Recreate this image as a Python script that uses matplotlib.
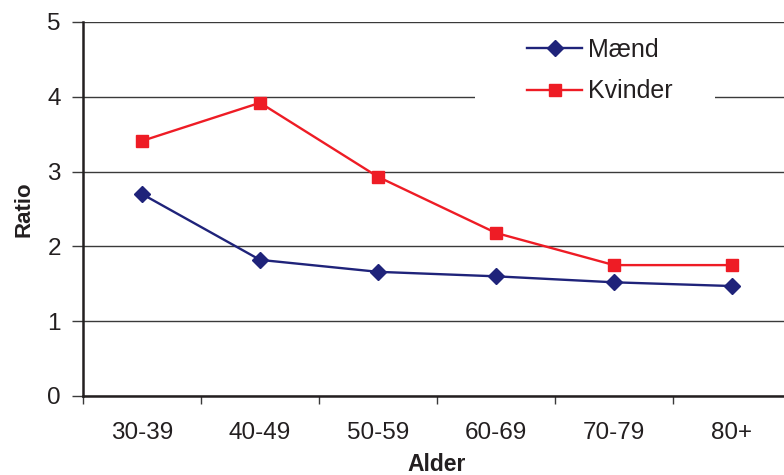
import matplotlib.pyplot as plt
from matplotlib.patches import Rectangle
import numpy as np

plt.rcParams['font.family'] = ['Liberation Sans', 'DejaVu Sans']

aldersgrupper = ['30-39', '40-49', '50-59', '60-69', '70-79', '80+']
maend = [2.70, 1.82, 1.66, 1.60, 1.52, 1.47]
kvinder = [3.41, 3.92, 2.93, 2.18, 1.75, 1.75]

fig = plt.figure(figsize=(7.84, 4.75), dpi=100)
ax = fig.add_axes([83 / 784, 79 / 475, 708 / 784, 374 / 475])

x = np.arange(len(aldersgrupper))
ax.plot(x, maend, color='#1f237a', marker='D', markersize=8.5, linewidth=1.7,
        label='Mænd', zorder=3)
ax.plot(x, kvinder, color='#ee1c25', marker='s', markersize=9, linewidth=1.7,
        label='Kvinder', zorder=3)

ax.set_xlim(-0.5, len(aldersgrupper) - 0.5)
ax.set_ylim(0, 5)
ax.set_yticks(range(0, 6))
ax.yaxis.grid(True, color='#3a3a3a', linewidth=1.0)
ax.set_axisbelow(True)

# kategorinavne midt i hver gruppe, tick-streger mellem grupperne
ax.set_xticks(x)
ax.set_xticklabels(aldersgrupper)
ax.set_xticks(np.arange(-0.5, len(aldersgrupper)), minor=True)
ax.tick_params(axis='x', which='major', length=0, pad=19, labelsize=17.5,
               colors='#231f20')
ax.tick_params(axis='x', which='minor', length=6, width=1, color='#3a3a3a')
ax.tick_params(axis='y', length=8, width=1, color='#3a3a3a', pad=8,
               labelsize=17.5, labelcolor='#231f20')

for side in ['top', 'right']:
    ax.spines[side].set_visible(False)
for side in ['left', 'bottom']:
    ax.spines[side].set_linewidth(1.8)
    ax.spines[side].set_color('#231f20')

ax.set_xlabel('Alder', fontsize=16.5, fontweight='bold', labelpad=6, color='#231f20')
ax.set_ylabel('Ratio', fontsize=16, fontweight='bold', labelpad=9, color='#231f20')

# hvid baggrund bag signaturforklaringen
fig.patches.append(Rectangle((475 / 784, 1 - 108 / 475), 240 / 784, 80 / 475,
                             transform=fig.transFigure, facecolor='white',
                             edgecolor='none', zorder=1))
ax.set_zorder(0)
ax.patch.set_visible(False)

leg = fig.legend(loc='upper left', bbox_to_anchor=(527 / 784, 1 - 38 / 475),
                 fontsize=18, frameon=False, handlelength=2.2,
                 borderpad=0, labelspacing=0.7, handletextpad=0.25,
                 borderaxespad=0)
for t in leg.get_texts():
    t.set_color('#231f20')

fig.savefig('out.png', dpi=100)
